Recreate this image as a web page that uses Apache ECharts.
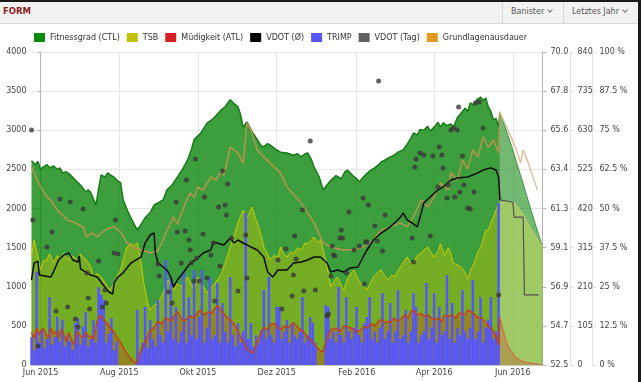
<!DOCTYPE html>
<html><head><meta charset="utf-8">
<script src="https://cdn.jsdelivr.net/npm/echarts@6/dist/echarts.min.js"></script>
<style>
html,body{margin:0;padding:0;width:641px;height:382px;overflow:hidden;background:#fff;font-family:"DejaVu Sans",sans-serif;}
#chart{position:absolute;left:0;top:0;width:641px;height:382px;}
#hdr{position:absolute;left:0;top:0;width:641px;height:24px;background:#f2f2f2;border-bottom:1px solid #d9d9d9;box-sizing:border-box;}
#topline{position:absolute;left:0;top:0;width:641px;height:2px;background:#1b1b1b;}
#title{position:absolute;left:3px;top:6px;font-size:8.5px;font-weight:bold;color:#8b1c1c;}
.btn{position:absolute;top:2px;height:21px;line-height:20px;font-size:8px;color:#555;border-left:1px solid #d6d6d6;box-sizing:border-box;padding-left:8px;}
.chev{display:inline-block;width:3px;height:3px;border-right:1px solid #777;border-bottom:1px solid #777;transform:rotate(45deg);margin-left:4px;position:relative;top:-2px;}
#redge{position:absolute;right:0;top:0;width:3px;height:382px;background:#1b1b1b;}
</style></head>
<body>
<div id="chart"></div>
<div id="hdr"></div>
<div id="topline"></div>
<div id="title">FORM</div>
<div class="btn" style="left:502px;width:61px;">Banister<span class="chev"></span></div>
<div class="btn" style="left:563px;width:75px;">Letztes Jahr<span class="chev"></span></div>
<div id="redge"></div>
<script>
// x values: days since 1 Jun 2015
const tickDays = [0, 61, 122, 183, 245, 305, 366];
const tickLabels = ['Jun 2015','Aug 2015','Okt 2015','Dez 2015','Feb 2016','Apr 2016','Jun 2016'];
const legendNames = ['Fitnessgrad (CTL)','TSB','Müdigkeit (ATL)','VDOT (Ø)','TRIMP','VDOT (Tag)','Grundlagenausdauer'];

const ctl = [[-7,2610],[-6,2620],[-4,2560],[-2,2600],[0,2500],[2,2530],[5,2560],[7,2520],[10,2545],[13,2500],[15,2520],[17,2455],[20,2470],[23,2430],[26,2380],[29,2330],[32,2280],[35,2210],[37,2240],[39,2200],[41,2120],[43,2045],[45,2250],[47,2430],[50,2400],[52,2455],[55,2420],[57,2400],[60,2350],[62,2330],[64,2110],[68,1950],[72,1815],[75,1725],[78,1800],[81,1880],[85,1950],[88,2045],[92,2080],[95,2110],[98,2240],[102,2300],[106,2400],[110,2500],[114,2620],[117,2760],[119,2880],[124,2960],[129,3090],[134,3150],[140,3260],[143,3300],[147,3390],[150,3340],[153,3300],[155,3200],[157,3040],[160,3105],[164,2980],[168,2880],[171,2800],[173,2790],[176,2830],[178,2810],[182,2760],[186,2720],[191,2710],[196,2680],[199,2700],[202,2660],[205,2700],[207,2710],[210,2620],[212,2530],[216,2400],[219,2240],[222,2300],[225,2360],[229,2420],[233,2380],[236,2470],[238,2490],[242,2420],[245,2380],[247,2340],[250,2400],[253,2450],[256,2490],[259,2520],[262,2560],[264,2595],[267,2620],[271,2660],[274,2680],[277,2720],[281,2750],[284,2820],[287,2900],[289,2965],[292,2940],[294,3010],[297,3000],[300,3050],[302,2990],[305,3040],[308,3100],[310,3040],[312,3095],[315,3060],[318,3080],[320,3040],[323,3160],[326,3220],[329,3280],[331,3240],[333,3350],[336,3320],[338,3390],[341,3425],[343,3380],[345,3410],[347,3300],[349,3240],[351,3130],[353,3150],[355,3040],[356,3235]];
const ctlForecast = [[356,3235],[365,2800],[373,2370],[381,1930],[389,1508]];

const tsb = [[-7,1400],[-5,1600],[-3,1450],[-1,1300],[0,1214],[2,1330],[5,1342],[7,1420],[10,1304],[13,1400],[15,1350],[18,1431],[21,1340],[23,1400],[26,1380],[29,1330],[31,1420],[33,1380],[36,1330],[39,1252],[41,1125],[44,1170],[47,1125],[50,1050],[52,997],[54,958],[56,1020],[58,1086],[62,1214],[65,1400],[67,1508],[70,1559],[72,1520],[75,1559],[78,1304],[80,1048],[83,792],[85,703],[88,760],[91,792],[95,920],[99,1086],[103,958],[106,1040],[109,997],[112,1080],[114,1125],[117,1020],[119,958],[122,1125],[126,1010],[129,920],[133,1000],[137,1086],[140,1150],[142,1252],[145,1400],[147,1508],[150,1650],[153,1815],[155,1900],[157,1981],[160,1891],[162,1950],[164,2019],[166,1900],[168,1815],[171,1650],[173,1508],[176,1420],[178,1342],[181,1400],[184,1380],[186,1508],[188,1430],[191,1380],[194,1450],[196,1420],[199,1500],[202,1470],[205,1560],[207,1550],[210,1600],[212,1636],[215,1560],[217,1598],[220,1400],[222,1252],[225,997],[228,1080],[230,1125],[233,1020],[235,958],[238,1100],[241,1180],[243,1214],[246,1100],[248,1048],[251,1000],[253,958],[256,1060],[258,1125],[261,1180],[264,1214],[267,1130],[269,1086],[272,1150],[274,1125],[277,1200],[279,1252],[282,1330],[284,1380],[287,1300],[289,1304],[292,1400],[295,1431],[297,1470],[300,1508],[302,1450],[305,1380],[308,1450],[310,1550],[313,1400],[316,1500],[318,1420],[320,1300],[323,1280],[326,1250],[329,1180],[331,1100],[333,1200],[336,1300],[339,1450],[341,1500],[343,1600],[345,1725],[347,1720],[349,1815],[351,1891],[353,1980],[355,2070]];
const tsbForecast = [[355,2070],[357,2075],[362,2090],[367,2075],[373,1950],[378,1800],[383,1660],[389,1508]];

const atl = [[-7,420],[-5,340],[-3,470],[-1,380],[0,430],[2,470],[4,400],[6,350],[8,470],[10,400],[12,430],[14,350],[16,460],[18,390],[20,300],[22,420],[24,320],[26,260],[28,440],[30,380],[33,350],[35,420],[37,360],[39,370],[41,330],[44,560],[46,640],[48,600],[50,560],[52,530],[54,470],[57,420],[60,330],[62,290],[65,200],[68,120],[71,60],[74,20],[75,40],[77,150],[79,230],[82,330],[85,440],[88,480],[91,560],[94,520],[96,580],[98,600],[101,560],[104,640],[106,680],[109,600],[111,560],[114,600],[116,630],[119,600],[122,680],[124,700],[127,640],[130,680],[132,660],[135,720],[137,760],[140,700],[142,660],[145,600],[148,560],[150,520],[153,440],[155,360],[158,280],[160,200],[163,170],[165,150],[168,300],[171,420],[173,480],[176,450],[178,520],[181,530],[184,480],[186,450],[189,500],[192,480],[196,540],[200,470],[204,420],[207,360],[210,300],[214,230],[217,180],[219,170],[222,350],[225,450],[229,470],[232,430],[235,500],[238,490],[242,460],[245,420],[248,450],[251,490],[253,470],[256,530],[259,500],[262,560],[264,580],[267,540],[269,560],[271,540],[274,600],[277,560],[279,580],[282,640],[285,600],[287,680],[289,700],[292,640],[295,660],[297,620],[300,640],[303,600],[305,580],[308,600],[311,560],[313,640],[316,620],[319,640],[322,600],[324,660],[326,660],[329,640],[331,700],[334,680],[336,650],[339,600],[341,610],[344,560],[347,500],[349,470],[351,420],[353,360],[355,260],[356,610]];
const atlForecast = [[356,610],[358,470],[361,290],[364,190],[368,100],[373,50],[378,26],[389,5]];

// VDOT axis units
const vdotAvg = [[-7,57.25],[-5,58.2],[-2,58.31],[-1,57.53],[0,57.47],[8,57.42],[10,57.7],[14,58.37],[18,58.65],[22,58.76],[25,58.37],[29,58.26],[30,58.59],[31,57.87],[39,57.53],[44,57.42],[48,57.03],[53,56.58],[56,56.47],[57,57.09],[60,57.42],[64,57.65],[70,58.2],[78,58.54],[81,59.32],[85,59.77],[88,59.88],[89,58.76],[91,58.2],[95,57.98],[98,57.81],[101,57.42],[103,56.86],[106,57.25],[111,57.7],[116,58.2],[122,58.48],[126,58.76],[132,58.93],[134,59.38],[142,59.21],[147,59.6],[150,59.32],[153,59.49],[157,59.32],[163,59.1],[168,58.93],[173,58.54],[176,57.7],[180,57.42],[184,57.81],[191,57.81],[196,58.2],[202,58.26],[207,58.37],[212,58.54],[217,58.54],[222,58.2],[225,57.7],[230,57.81],[235,57.7],[240,57.93],[246,57.98],[250,58.54],[253,58.93],[258,59.49],[264,59.88],[271,60.22],[279,60.77],[281,61.0],[284,60.61],[288,60.44],[292,60.22],[295,61.0],[297,61.56],[302,61.89],[308,62.29],[312,62.45],[318,62.84],[323,62.96],[331,63.01],[339,63.24],[343,63.4],[349,63.52],[353,63.4],[355,63.01],[356,61.73]];
const vdotForecast = [[356,61.73],[366,61.6],[367,60.77],[374,60.77],[375,56.42],[386,56.42]];
const vdotDay = [[-7,65.64],[-6,60.61],[-2,53.56],[5,59.1],[9,59.94],[15,61.78],[12,55.52],[21,55.74],[23,61.61],[27,55.07],[29,54.63],[33,61.22],[36,57.65],[37,56.25],[38,55.63],[45,58.31],[48,55.74],[51,55.97],[50,56.69],[57,58.76],[60,58.71],[58,60.61],[91,58.15],[92,57.47],[99,56.58],[102,55.97],[105,61.61],[106,59.94],[109,58.2],[112,59.99],[113,62.84],[115,59.49],[116,58.93],[117,58.2],[119,57.2],[120,64.02],[121,58.48],[123,57.2],[126,59.82],[127,61.89],[129,57.37],[132,58.65],[134,59.32],[135,56.08],[138,61.33],[139,58.03],[141,63.35],[143,61.45],[144,60.89],[145,62.62],[148,59.6],[153,56.64],[159,59.77],[160,57.37],[184,58.37],[187,55.63],[190,58.98],[195,56.36],[196,57.53],[197,59.71],[198,58.43],[203,61.17],[204,56.64],[209,65.03],[213,56.69],[222,55.24],[223,55.35],[225,57.47],[226,59.15],[227,58.65],[228,58.59],[232,59.6],[233,60.05],[234,59.6],[237,57.65],[239,61.05],[243,58.93],[247,59.15],[250,61.84],[251,57.03],[252,59.38],[253,59.38],[254,61.45],[259,60.27],[261,59.43],[262,68.38],[265,58.87],[267,60.89],[288,59.6],[289,58.26],[290,63.57],[291,64.02],[294,64.35],[297,64.24],[302,59.71],[304,64.19],[308,62.45],[309,64.69],[311,64.24],[312,63.52],[315,61.84],[316,62.56],[318,65.64],[320,65.75],[321,61.89],[323,65.64],[324,66.92],[325,62.17],[327,64.19],[328,62.56],[331,61.28],[333,61.22],[336,62.17],[337,67.15],[340,67.2],[343,65.75],[355,56.42]];

// TRIMP values, one every 2 days starting at day -7
const trimpStartDay = -7;
const trimp = [75,40,250,60,94,45,70,182,55,75,
129,63,121,50,80,63,40,113,126,55,
103,142,50,70,121,60,209,189,175,60,
84,126,40,63,0,0,0,0,0,0,
0,148,30,60,156,45,121,70,50,175,
80,60,282,90,236,70,156,60,90,255,
60,182,80,255,70,129,255,60,100,236,
70,80,220,60,166,90,60,236,80,50,
113,60,90,408,70,113,50,80,60,94,
201,70,236,80,60,156,156,70,90,121,
60,113,80,70,90,182,60,80,129,113,
60,0,0,0,161,156,70,90,60,209,
80,60,182,90,70,100,156,80,60,113,
129,182,70,90,60,100,193,70,90,166,
60,90,201,70,80,148,60,90,193,156,
60,80,90,220,70,100,193,60,156,80,
90,241,70,166,60,100,80,201,90,70,
100,228,70,90,182,60,100,121,182,70,
90,435];

// Grundlagenausdauer in %
const gla = [[-7,63.3],[-5,61.4],[-2,58.5],[0,56.9],[5,53.7],[8,52.7],[13,49.5],[21,46.3],[27,45.4],[33,44.1],[36,40.9],[40,42.2],[44,40.9],[47,42.2],[52,43.6],[57,44.1],[62,42.5],[67,39.0],[72,37.4],[78,36.8],[85,35.8],[91,36.5],[95,40.0],[98,43.1],[101,45.4],[103,47.3],[106,45.0],[111,50.5],[116,55.0],[119,53.5],[122,56.9],[126,55.8],[132,60.1],[136,59.0],[140,62.3],[142,60.5],[145,65.5],[147,69.7],[153,67.7],[157,64.5],[160,77.3],[163,75.1],[168,68.7],[173,66.5],[178,64.5],[186,61.3],[191,56.9],[202,51.8],[212,45.4],[219,39.0],[225,37.7],[233,36.8],[243,36.8],[250,37.7],[258,40.0],[264,43.1],[271,44.1],[279,45.4],[284,44.1],[289,47.3],[295,52.7],[300,50.5],[305,53.7],[310,58.2],[316,55.9],[318,61.4],[323,59.1],[327,65.5],[331,62.5],[335,68.7],[339,66.5],[343,72.9],[347,69.5],[351,71.9],[355,67.7],[356,80.8]];
const glaForecast = [[356,80.8],[361,76.1],[368,69.7],[372,64.5],[374,68.7],[378,64.5],[385,55.9]];

const trimpData = trimp.map((v, i) => [trimpStartDay + 2 * i, v]);
const FONT = 'DejaVu Sans';
const lbl = {fontFamily: FONT, fontSize: 8, color: '#444'};

function line(name, data, axis, color, width, area, z, extra) {
  return Object.assign({
    name, type: 'line', data, yAxisIndex: axis, symbol: 'none', showSymbol: false,
    lineStyle: {color: color, width: width}, itemStyle: {color: color},
    areaStyle: area ? {color: area, opacity: 1} : undefined,
    z: z, silent: true, animation: false
  }, extra || {});
}

const chart = echarts.init(document.getElementById('chart'), null, {renderer: 'canvas'});
chart.setOption({
  animation: false,
  textStyle: {fontFamily: FONT},
  grid: {left: 31.5, right: 98.5, top: 52, bottom: 17},
  legend: {
    data: legendNames, left: 34, top: 33, padding: 0, itemWidth: 11, itemHeight: 9, itemGap: 7, icon: 'rect',
    textStyle: {fontFamily: FONT, fontSize: 8, color: '#333'}, selectedMode: false
  },
  xAxis: {
    type: 'value', min: -7, max: 389,
    axisLine: {show: true, lineStyle: {color: '#c8c8c8'}},
    axisTick: {show: false, customValues: tickDays},
    axisLabel: Object.assign({customValues: tickDays, margin: 4,
      formatter: v => { const i = tickDays.indexOf(v); return i >= 0 ? tickLabels[i] : ''; }}, lbl),
    splitLine: {show: true, lineStyle: {color: '#e6e6e6'}}
  },
  yAxis: [
    {type: 'value', min: 0, max: 4000, interval: 500, position: 'left',
     axisLine: {show: true, lineStyle: {color: '#b5b5b5'}},
     axisTick: {show: true, length: 3, lineStyle: {color: '#b5b5b5'}},
     axisLabel: Object.assign({margin: 5, formatter: v => String(v)}, lbl),
     splitLine: {show: true, lineStyle: {color: '#e6e6e6'}}},
    {type: 'value', min: 52.5, max: 70, interval: 2.1875, position: 'right', offset: 0,
     axisLine: {show: true, lineStyle: {color: '#b5b5b5'}},
     axisTick: {show: true, length: 4, lineStyle: {color: '#b5b5b5'}},
     axisLabel: Object.assign({margin: 8, formatter: v => v.toFixed(1)}, lbl),
     splitLine: {show: false}},
    {type: 'value', min: 0, max: 840, interval: 105, position: 'right', offset: 28,
     axisLine: {show: true, lineStyle: {color: '#e2e2e2'}},
     axisTick: {show: true, length: 4, lineStyle: {color: '#e2e2e2'}},
     axisLabel: Object.assign({margin: 7, formatter: v => String(v)}, lbl),
     splitLine: {show: false}},
    {type: 'value', min: 0, max: 100, interval: 12.5, position: 'right', offset: 50,
     axisLine: {show: true, lineStyle: {color: '#e2e2e2'}},
     axisTick: {show: true, length: 4, lineStyle: {color: '#e2e2e2'}},
     axisLabel: Object.assign({margin: 7, formatter: v => v + ' %'}, lbl),
     splitLine: {show: false}}
  ],
  series: [
    line('Fitnessgrad (CTL)', ctl, 0, '#0a8a0a', 1.5, 'rgba(0,128,0,0.76)', 1, {lineStyle: {color: '#177a17', width: 1.5}}),
    line('ctlForecast', ctlForecast, 0, '#3c963c', 1, 'rgba(0,128,0,0.55)', 1),
    line('TSB', tsb, 0, '#c2c200', 1, 'rgba(192,192,0,0.42)', 2, {lineStyle: {color: '#cccc00', width: 1}}),
    line('tsbForecast', tsbForecast, 0, '#c6d070', 1, 'rgba(205,220,90,0.5)', 2),
    line('Müdigkeit (ATL)', atl, 0, '#d42020', 0, 'rgba(200,60,30,0.35)', 3, {lineStyle: {width: 0}}),
    line('atlForecastArea', atlForecast, 0, '#d42020', 0, 'rgba(200,60,30,0.3)', 3, {lineStyle: {width: 0}}),
    {name: 'TRIMP', type: 'bar', data: trimpData, yAxisIndex: 2, barWidth: 2.4, itemStyle: {color: '#5555ff'}, z: 4, silent: true, animation: false},
    line('atlLine', atl, 0, '#c4401e', 1.5, null, 5),
    line('atlForecastLine', atlForecast, 0, '#d0704a', 1.2, null, 5),
    line('Grundlagenausdauer', gla, 3, '#e09a20', 1.5, null, 6, {lineStyle: {color: '#c49350', width: 1.5, opacity: 0.9}}),
    line('glaForecast', glaForecast, 3, '#dcc29a', 1.5, null, 6),
    line('VDOT (Ø)', vdotAvg, 1, '#000000', 1.5, null, 7, {lineStyle: {color: '#0a0a0a', width: 1.5}}),
    line('vdotForecast', vdotForecast, 1, '#505050', 1.2, null, 7),
    {name: 'VDOT (Tag)', type: 'scatter', data: vdotDay, yAxisIndex: 1, symbolSize: 5, itemStyle: {color: '#3a3a3a'}, z: 8, silent: true, animation: false}
  ]
});
</script>
</body></html>
